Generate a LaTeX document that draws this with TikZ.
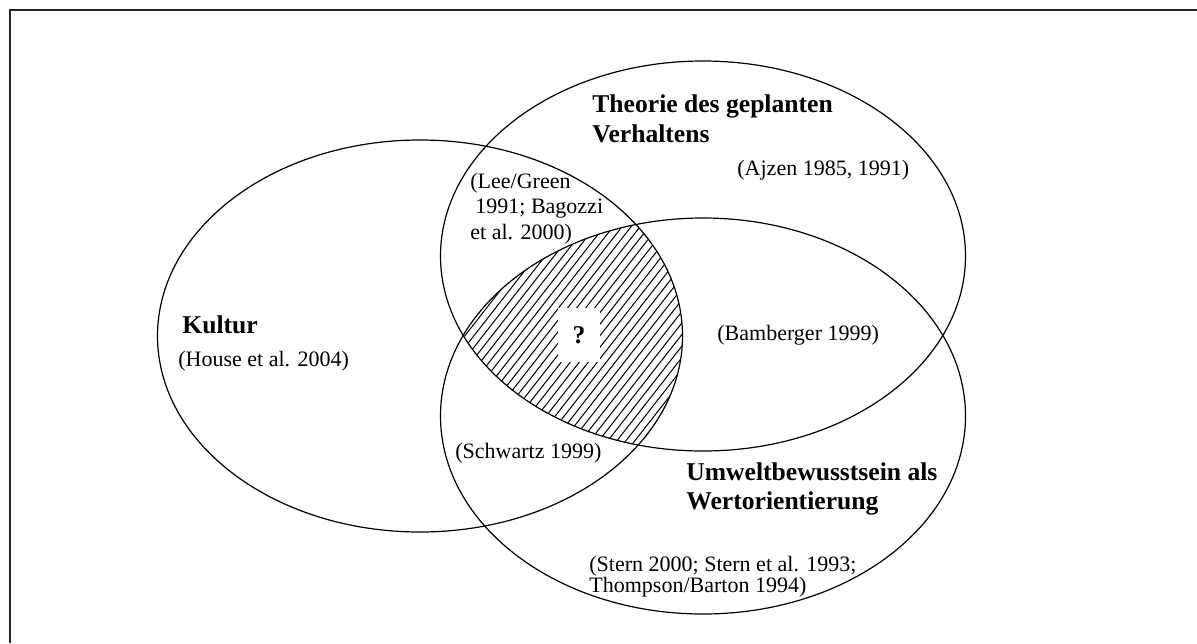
\documentclass[tikz,border=0pt]{standalone}
\usepackage{fontspec}
\setmainfont{Liberation Serif}
\begin{document}
\begin{tikzpicture}[x=0.5pt,y=-0.5pt,
  venn/.style={draw=black, line width=0.6pt},
  hatch/.style={line width=0.5pt},
  frame/.style={line width=1pt, black!85},
  reg/.style={inner sep=0pt, anchor=base west, font=\fontsize{11}{13}\selectfont},
  bld/.style={inner sep=0pt, anchor=base west, font=\fontsize{12.8}{15}\selectfont\bfseries}]
\useasboundingbox (0,0) rectangle (1197,643);
% open frame (right and bottom sides lie outside the picture)
\coordinate (fbl) at (9.5,643);
\coordinate (ftl) at (9.5,9.5);
\coordinate (ftr) at (1197,9.5);
\draw[frame] (fbl) -- (ftl) -- (ftr);
% hatched common region
\begin{scope}
\clip (420,336) ellipse [x radius=262.5, y radius=196];
\clip (703,256) ellipse [x radius=262.5, y radius=195];
\clip (703,416) ellipse [x radius=262.5, y radius=198];
\foreach \k in {0,...,60} {
  \draw[hatch] (240+\k*9,520) -- ++(296,-379);
}
\end{scope}
% ellipses
\draw[venn] (420,336) ellipse [x radius=262.5, y radius=196];
\draw[venn] (703,256) ellipse [x radius=262.5, y radius=195];
\draw[venn] (703,416) ellipse [x radius=262.5, y radius=198];
% question mark
\node[fill=white, inner sep=0pt, minimum width=21pt, minimum height=27pt,
      font=\fontsize{12.8}{15}\selectfont\bfseries] (q) at (579,335) {?};
% texts
\node[bld] (kultur) at (182,333) {Kultur};
\node[reg] (house) at (178,366) {(House et al. 2004)};
\node[reg] (lee1) at (470,188) {(Lee/Green};
\node[reg] (lee2) at (475,213) {1991; Bagozzi};
\node[reg] (lee3) at (470,239) {et al. 2000)};
\node[bld] (tpb1) at (592,112) {Theorie des geplanten};
\node[bld] (tpb2) at (592,142) {Verhaltens};
\node[reg] (ajzen) at (737,175) {(Ajzen 1985, 1991)};
\node[reg] (bamb) at (717,340) {(Bamberger 1999)};
\node[reg] (schwartz) at (455,458) {(Schwartz 1999)};
\node[bld] (umw1) at (686,480) {Umweltbewusstsein als};
\node[bld] (umw2) at (686,509) {Wertorientierung};
\node[reg] (stern1) at (589,571) {(Stern 2000; Stern et al. 1993;};
\node[reg] (stern2) at (589,592) {Thompson/Barton 1994)};
\end{tikzpicture}
\end{document}
